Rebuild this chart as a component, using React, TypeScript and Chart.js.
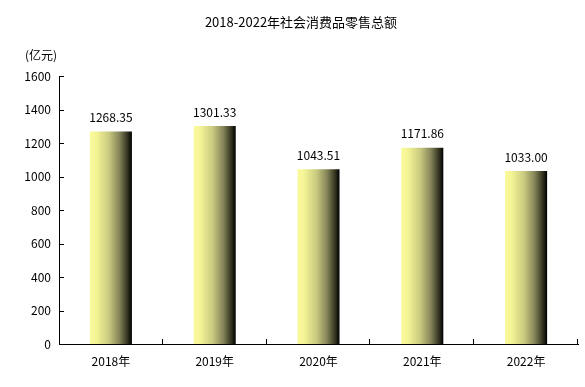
import React, { useEffect, useRef } from "react";
import { Chart, registerables } from "chart.js";

Chart.register(...registerables);

const categories = ["2018年", "2019年", "2020年", "2021年", "2022年"];
const values = [1268.35, 1301.33, 1043.51, 1171.86, 1033.0];
const valueLabels = ["1268.35", "1301.33", "1043.51", "1171.86", "1033.00"];
const yTicks = [0, 200, 400, 600, 800, 1000, 1200, 1400, 1600];
const titleText = "2018-2022年社会消费品零售总额";
const unitText = "(亿元)";

const FONT = "'Noto Sans CJK SC', 'Liberation Sans', sans-serif";
const BAR_PCT = 0.405;

export default function App() {
  const ref = useRef<HTMLCanvasElement | null>(null);

  useEffect(() => {
    document.body.style.margin = "0";
    const canvas = ref.current;
    if (!canvas) return;

    const makeGradient = (c: any) => {
      const chart = c.chart;
      const xs = chart.scales && chart.scales.x;
      if (!xs || !chart.chartArea || c.dataIndex === undefined) return "#f8f898";
      const cx = xs.getPixelForValue(c.dataIndex);
      const w = (xs.width / categories.length) * BAR_PCT;
      const g = chart.ctx.createLinearGradient(cx - w / 2, 0, cx + w / 2, 0);
      g.addColorStop(0, "#fafa9c");
      g.addColorStop(0.15, "#f5f596");
      g.addColorStop(0.45, "#caca80");
      g.addColorStop(0.7, "#85855a");
      g.addColorStop(0.88, "#3a3a25");
      g.addColorStop(1, "#000000");
      return g;
    };

    const decor = {
      id: "decor",
      afterDraw(chart: any) {
        const ctx = chart.ctx;
        const xs = chart.scales.x;
        const ys = chart.scales.y;
        const area = chart.chartArea;
        ctx.save();
        ctx.strokeStyle = "#000";
        ctx.lineWidth = 1;
        // y ticks pointing inward
        ctx.beginPath();
        yTicks.forEach((v) => {
          const y = Math.round(ys.getPixelForValue(v)) + 0.5;
          ctx.moveTo(area.left, y);
          ctx.lineTo(area.left + 5, y);
        });
        // x category boundary ticks pointing up
        for (let i = 1; i <= categories.length; i++) {
          const x = Math.round(xs.getPixelForValue(i - 0.5)) - 0.5;
          ctx.moveTo(x, area.bottom);
          ctx.lineTo(x, area.bottom - 5);
        }
        ctx.stroke();

        // value labels
        ctx.fillStyle = "#000";
        ctx.font = `12px ${FONT}`;
        ctx.textAlign = "center";
        ctx.textBaseline = "middle";
        values.forEach((v, i) => {
          const x = xs.getPixelForValue(i);
          const y = ys.getPixelForValue(v) - 14;
          ctx.fillText(valueLabels[i], x, y);
        });

        // title
        ctx.font = `13px ${FONT}`;
        ctx.textAlign = "center";
        ctx.fillText(titleText, 301, 22);

        // unit
        ctx.font = `12px ${FONT}`;
        ctx.textAlign = "left";
        ctx.fillText(unitText, 25, 55);
        ctx.restore();
      },
    };

    const chart = new Chart(canvas, {
      type: "bar",
      data: {
        labels: categories,
        datasets: [
          {
            data: values,
            backgroundColor: makeGradient as any,
            borderWidth: 0,
            barPercentage: BAR_PCT,
            categoryPercentage: 1,
          },
        ],
      },
      options: {
        animation: false,
        responsive: false,
        devicePixelRatio: 1,
        layout: { padding: { top: 76, right: 7, left: 0, bottom: 0 } },
        plugins: {
          legend: { display: false },
          tooltip: { enabled: false },
          title: { display: false },
        },
        scales: {
          x: {
            offset: true,
            grid: { display: false, drawTicks: false },
            border: { display: true, color: "#000", width: 1 },
            ticks: {
              color: "#000",
              font: { size: 12, family: FONT },
              padding: 10,
              maxRotation: 0,
            },
            afterFit: (s: any) => {
              s.height = 43;
            },
          },
          y: {
            min: 0,
            max: 1600,
            afterBuildTicks: (s: any) => {
              s.ticks = yTicks.map((v) => ({ value: v }));
            },
            grid: { display: false, drawTicks: false },
            border: { display: true, color: "#000", width: 1 },
            ticks: {
              color: "#000",
              font: { size: 12, family: FONT },
              padding: 8,
              callback: (v: any) => String(v),
            },
            afterFit: (s: any) => {
              s.width = 59;
            },
          },
        },
      },
      plugins: [decor],
    });

    return () => chart.destroy();
  }, []);

  return (
    <div style={{ width: 585, height: 387, background: "#fff" }}>
      <canvas ref={ref} width={585} height={387} style={{ display: "block" }} />
    </div>
  );
}
